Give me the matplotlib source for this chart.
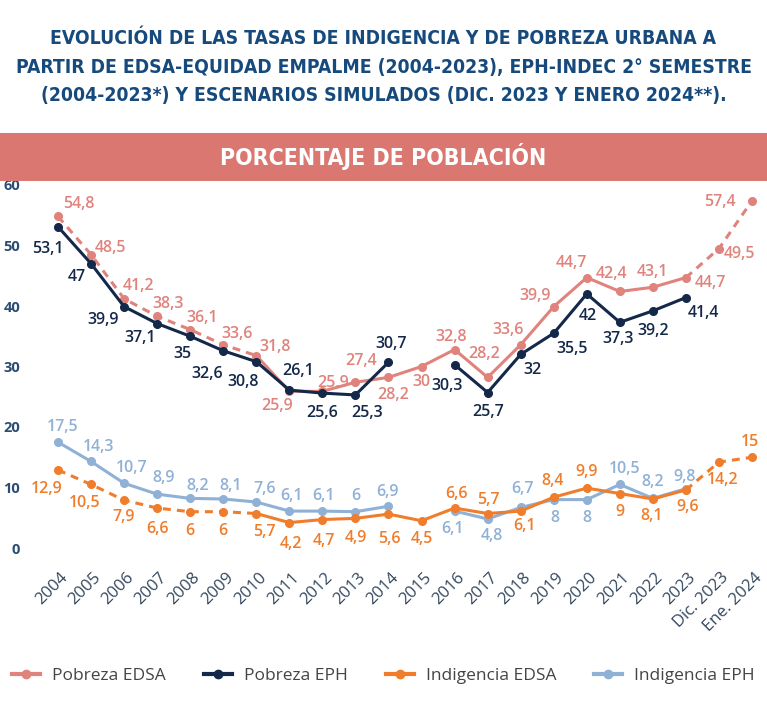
import numpy as np
import matplotlib
matplotlib.use("Agg")
import matplotlib.pyplot as plt
from matplotlib import font_manager
from matplotlib.font_manager import FontProperties
from matplotlib.lines import Line2D
from matplotlib.patches import Rectangle
from matplotlib.transforms import ScaledTranslation

# ---- data ----
labels = ['2004', '2005', '2006', '2007', '2008', '2009', '2010', '2011', '2012',
          '2013', '2014', '2015', '2016', '2017', '2018', '2019', '2020', '2021',
          '2022', '2023', 'Dic. 2023', 'Ene. 2024']

pobreza_edsa = [54.8, 48.5, 41.2, 38.3, 36.1, 33.6, 31.8, 25.9, 25.9, 27.4, 28.2,
                30, 32.8, 28.2, 33.6, 39.9, 44.7, 42.4, 43.1, 44.7, 49.5, 57.4]
pobreza_eph = [53.1, 47, 39.9, 37.1, 35, 32.6, 30.8, 26.1, 25.6, 25.3, 30.7,
               None, 30.3, 25.7, 32, 35.5, 42, 37.3, 39.2, 41.4, None, None]
indig_edsa = [12.9, 10.5, 7.9, 6.6, 6, 6, 5.7, 4.2, 4.7, 4.9, 5.6,
              4.5, 6.6, 5.7, 6.1, 8.4, 9.9, 9, 8.1, 9.6, 14.2, 15]
indig_eph = [17.5, 14.3, 10.7, 8.9, 8.2, 8.1, 7.6, 6.1, 6.1, 6, 6.9,
             None, 6.1, 4.8, 6.7, 8, 8, 10.5, 8.2, 9.8, None, None]

series_names = ['Pobreza EDSA', 'Pobreza EPH', 'Indigencia EDSA', 'Indigencia EPH']

# empalme ends at 2010, simulated scenarios start after 2023
EMPALME_END = 6
PROJ_START = 19

C_POB_EDSA = '#e0837c'
C_POB_EPH = '#14284a'
C_IND_EDSA = '#f07d2b'
C_IND_EPH = '#8fb1d6'
TITLE_C = '#174a7c'

# label offsets in pixels (dx, dy with y downwards)
off_pob_edsa = [(21, -12), (19, -7), (14, -13), (11, -12), (12, -12), (14, -11),
                (19, -9), (-12, 15), (11, -8), (6, -21), (5, 18), (0, 15),
                (-3, -13), (-3, -23), (-13, -15), (-19, -11), (-15, -15),
                (-8, -17), (0, -15), (24, 5), (21, 5), (-32, 1)]
off_pob_eph = [(-10, 22), (-14, 13), (-21, 13), (-17, 14), (-8, 18), (-16, 23),
               (-13, 20), (9, -19), (0, 20), (12, 18), (3, -18), None,
               (-8, 21), (0, 19), (12, 16), (18, 16), (1, 22), (-2, 17),
               (0, 20), (17, 15), None, None]
off_ind_edsa = [(-11, 19), (-6, 19), (0, 17), (0, 21), (0, 19), (0, 19),
                (8, 18), (2, 21), (2, 21), (0, 20), (1, 25), (0, 18),
                (2, -14), (1, -14), (4, 15), (-1, -16), (0, -16), (0, 18),
                (-1, 17), (2, 17), (4, 18), (-2, -15)]
off_ind_eph = [(5, -15), (7, -14), (8, -15), (6, -16), (7, -12), (7, -13),
               (8, -13), (2, -15), (1, -15), (0, -16), (-1, -14), None,
               (-2, 18), (4, 17), (2, -18), (1, 18), (0, 18), (5, -15),
               (0, -16), (-1, -12), None, None]

plt.rcParams['font.family'] = ['Open Sans', 'DejaVu Sans']


def condensed_bold():
    # look for a narrow bold face; fall back to Roboto bold
    for f in font_manager.fontManager.ttflist:
        narrow = ('Narrow' in f.name or 'Condensed' in f.name
                  or 'condensed' in str(f.stretch))
        if narrow and f.weight in ('bold', 700) and f.style == 'normal':
            return FontProperties(fname=f.fname)
    return FontProperties(family='Roboto', weight='bold')


fig = plt.figure(figsize=(7.67, 7.01), dpi=100)
W, H = 767, 701
renderer = fig.canvas.get_renderer()


def fit(t, target_px):
    w = t.get_window_extent(renderer).width
    t.set_fontsize(t.get_fontsize() * target_px / w)


# title
title_lines = ['EVOLUCIÓN DE LAS TASAS DE INDIGENCIA Y DE POBREZA URBANA A',
               'PARTIR DE EDSA-EQUIDAD EMPALME (2004-2023), EPH-INDEC 2° SEMESTRE',
               '(2004-2023*) Y ESCENARIOS SIMULADOS (DIC. 2023 Y ENERO 2024**).']
tfont = condensed_bold()
title_texts = []
for k, line in enumerate(title_lines):
    title_texts.append(fig.text(0.5, 1 - (39 + 28 * k) / H, line, ha='center',
                                va='center', fontproperties=tfont.copy(),
                                fontsize=15, color=TITLE_C))
fit(title_texts[1], 737)
for t in title_texts:
    t.set_fontsize(title_texts[1].get_fontsize())

# banner
fig.patches.append(Rectangle((0, 1 - 181 / H), 1, 48 / H, transform=fig.transFigure,
                             facecolor='#d97770', edgecolor='none', zorder=0))
btxt = fig.text(0.5, 1 - 157 / H, 'PORCENTAJE DE POBLACIÓN', ha='center', va='center',
                fontproperties=tfont.copy(), fontsize=16.5, color='white')
fit(btxt, 327)

# axes: x index i sits at pixel 58 + 33.05*i, value 0 at pixel 548 (6.05 px per unit)
ax = fig.add_axes([30 / W, (H - 560) / H, 737 / W, 379 / H])
ax.set_xlim((30 - 58) / 33.05, (767 - 58) / 33.05)
ax.set_ylim(-(560 - 548) / 6.05, (548 - 181) / 6.05)
for s in ax.spines.values():
    s.set_visible(False)

x = np.arange(len(labels))


def to_arr(vals):
    return np.array([np.nan if v is None else v for v in vals], dtype=float)


def draw(vals, color, z, split):
    y = to_arr(vals)
    dash = (0, (2.6, 2.0))
    if split:
        ax.plot(x[:EMPALME_END + 1], y[:EMPALME_END + 1], color=color, lw=2.2,
                ls=dash, zorder=z)
        ax.plot(x[EMPALME_END:PROJ_START + 1], y[EMPALME_END:PROJ_START + 1],
                color=color, lw=2.2, zorder=z)
        ax.plot(x[PROJ_START:], y[PROJ_START:], color=color, lw=2.2, ls=dash, zorder=z)
    else:
        ax.plot(x, y, color=color, lw=2.2, zorder=z)
    ax.plot(x, y, ls='none', marker='o', ms=5.5, color=color, zorder=z + 0.1)


def annotate(vals, offs, color):
    for i, v in enumerate(vals):
        if v is None:
            continue
        dx, dy = offs[i]
        ax.annotate(f'{v:g}'.replace('.', ','), (x[i], v), xytext=(dx, -dy),
                    textcoords='offset pixels', ha='center', va='center',
                    fontsize=11.5, fontweight='semibold', color=color,
                    annotation_clip=False, zorder=10)


draw(pobreza_edsa, C_POB_EDSA, 2, True)
draw(pobreza_eph, C_POB_EPH, 3, False)
draw(indig_eph, C_IND_EPH, 2, False)
draw(indig_edsa, C_IND_EDSA, 3, True)

annotate(pobreza_edsa, off_pob_edsa, C_POB_EDSA)
annotate(pobreza_eph, off_pob_eph, C_POB_EPH)
annotate(indig_edsa, off_ind_edsa, C_IND_EDSA)
annotate(indig_eph, off_ind_eph, C_IND_EPH)

ax.set_yticks([0, 10, 20, 30, 40, 50, 60])
ax.tick_params(axis='y', length=0, pad=7, labelsize=10.5, labelcolor='#2b4c73')
for t in ax.get_yticklabels():
    t.set_fontweight('bold')

ax.set_xticks(x)
ax.set_xticklabels(labels, rotation=45, ha='right', va='top', rotation_mode='anchor',
                   fontsize=12, color='#33475e')
ax.tick_params(axis='x', length=0, pad=7)
shift = ScaledTranslation(2 / 100, 0, fig.dpi_scale_trans)
for t in ax.get_xticklabels():
    t.set_transform(t.get_transform() + shift)

handles = [Line2D([], [], color=c, lw=3, marker='o', ms=6)
           for c in (C_POB_EDSA, C_POB_EPH, C_IND_EDSA, C_IND_EPH)]
leg = fig.legend(handles, series_names, loc='center', bbox_to_anchor=(0.5, 1 - 676 / H),
                 ncol=4, frameon=False, fontsize=12.5, handlelength=1.6,
                 handletextpad=0.7, columnspacing=2.2)
for t in leg.get_texts():
    t.set_color('#444444')

fig.savefig('out.png', dpi=100, facecolor='white')
